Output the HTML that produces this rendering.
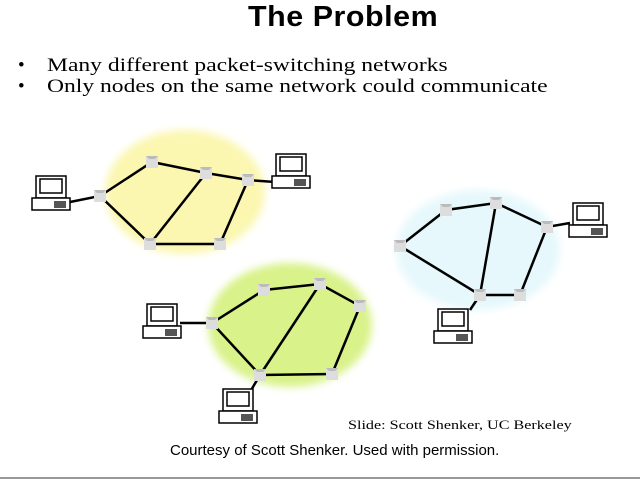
<!DOCTYPE html>
<html><head><style>
body{margin:0;width:640px;height:480px;background:#fff;overflow:hidden;position:relative;font-family:"Liberation Sans",sans-serif}
h1{position:absolute;top:1px;left:248px;margin:0;font-size:29px;font-weight:bold;letter-spacing:0.5px;white-space:nowrap;transform:scaleX(1.05);transform-origin:left}
.b{position:absolute;left:18px;font-family:"Liberation Serif",serif;font-size:19px;white-space:nowrap}
.b span{position:absolute;left:29px;transform:scaleX(1.24);transform-origin:left;top:0}
.t{position:absolute;white-space:nowrap}
</style></head><body>
<h1>The Problem</h1>
<div class="b" style="top:55px">•<span>Many different packet-switching networks</span></div>
<div class="b" style="top:76px">•<span>Only nodes on the same network could communicate</span></div>
<svg width="640" height="480" style="position:absolute;left:0;top:0">
<defs>
<filter id="b"><feGaussianBlur stdDeviation="4"/></filter>
<g id="pc">
<rect x="4" y="0" width="30" height="22" fill="#fff" stroke="#000" stroke-width="1.5"/>
<rect x="8" y="3" width="22" height="14" fill="#fff" stroke="#000" stroke-width="1.5"/>
<rect x="0" y="22" width="38" height="12" fill="#fff" stroke="#000" stroke-width="1.5"/>
<rect x="22" y="25" width="12" height="7" fill="#555"/>
</g>
<g id="r"><path d="M-6,-6 L6,-6 L6,6 L-6,6Z" fill="#ddd"/><path d="M-6,-6 L6,-6 L3,-3 L-3,-3Z" fill="#bbb"/></g>
</defs>
<g filter="url(#b)">
<ellipse cx="185" cy="192" rx="80" ry="62" fill="#fbf7b0"/>
<ellipse cx="290" cy="325" rx="82" ry="62" fill="#d9f28a"/>
<ellipse cx="478" cy="250" rx="82" ry="60" fill="#e6f8fc"/>
</g>
<g stroke="#000" stroke-width="2.5" fill="none">
<path d="M70,202L100,196L152,162L206,173L248,180L275,182M100,196L150,244L220,244L248,180M206,173L150,244"/>
<path d="M180,323L212,323L264,290L320,284L360,306L332,374L260,375L212,323M320,284L260,375M260,375L250,392"/>
<path d="M400,246L446,210L496,203L547,227L570,223M400,246L480,295L520,295L547,227M496,203L480,295L470,310"/>
</g>
<g>
<use href="#r" x="100" y="196"/><use href="#r" x="152" y="162"/><use href="#r" x="206" y="173"/><use href="#r" x="248" y="180"/><use href="#r" x="150" y="244"/><use href="#r" x="220" y="244"/>
<use href="#r" x="212" y="323"/><use href="#r" x="264" y="290"/><use href="#r" x="320" y="284"/><use href="#r" x="360" y="306"/><use href="#r" x="260" y="375"/><use href="#r" x="332" y="374"/>
<use href="#r" x="400" y="246"/><use href="#r" x="446" y="210"/><use href="#r" x="496" y="203"/><use href="#r" x="547" y="227"/><use href="#r" x="480" y="295"/><use href="#r" x="520" y="295"/>
</g>
<use href="#pc" x="32" y="176"/>
<use href="#pc" x="272" y="154"/>
<use href="#pc" x="143" y="304"/>
<use href="#pc" x="219" y="389"/>
<use href="#pc" x="569" y="203"/>
<use href="#pc" x="434" y="309"/>
<line x1="0" y1="478" x2="640" y2="478" stroke="#999" stroke-width="2"/>
</svg>
<div class="t" style="left:348px;top:417px;font-family:'Liberation Serif',serif;font-size:13px;transform:scaleX(1.24);transform-origin:left">Slide: Scott Shenker, UC Berkeley</div>
<div class="t" style="left:170px;top:442px;font-size:15px;transform:scaleX(1.0);transform-origin:left">Courtesy of Scott Shenker. Used with permission.</div>
</body></html>
